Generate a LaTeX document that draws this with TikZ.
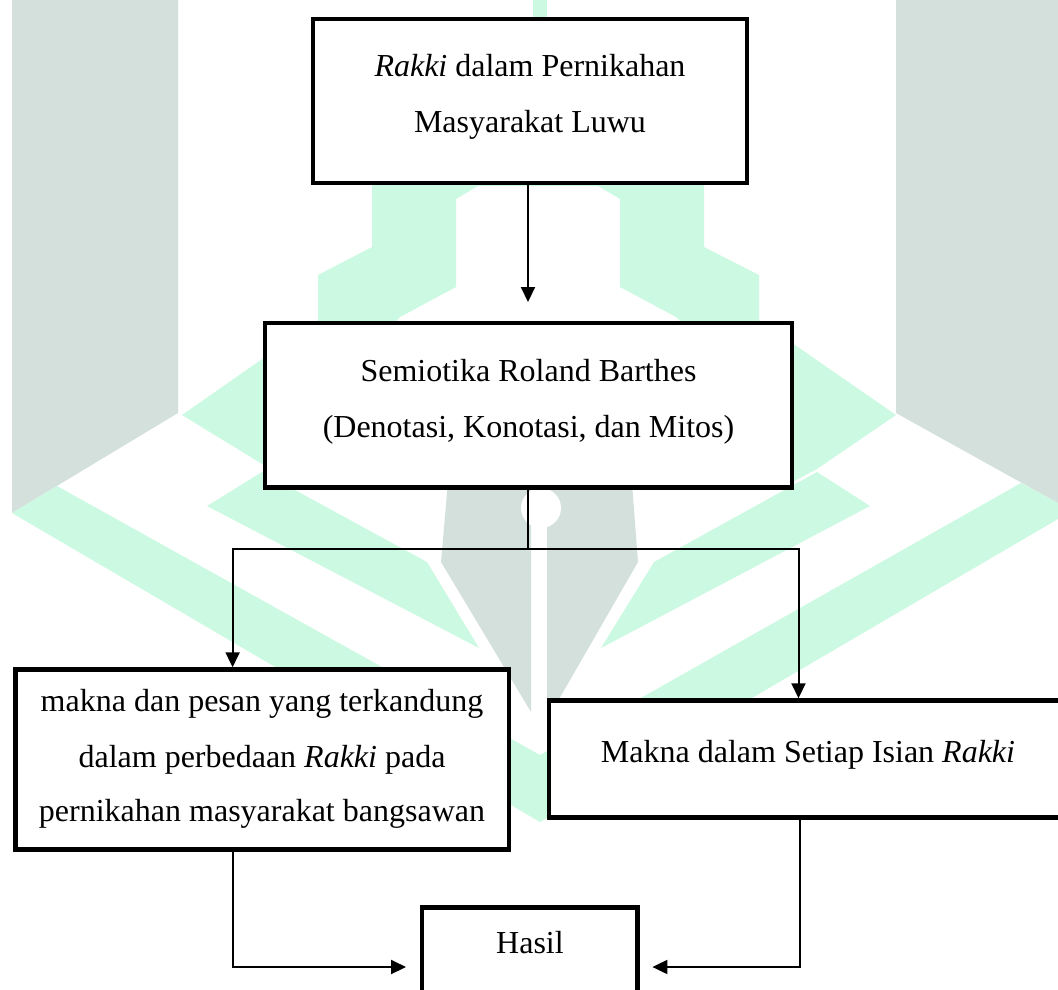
\documentclass[tikz,border=0pt]{standalone}
\usepackage{fontspec}
\setmainfont{Liberation Serif}
\usetikzlibrary{arrows.meta}
\definecolor{wmgreen}{RGB}{204,249,226}
\definecolor{wmgrey}{RGB}{211,224,220}
\begin{document}
\begin{tikzpicture}[x=1pt,y=-1pt,
  box/.style={draw=black, line width=4.5pt, fill=white, inner sep=0pt},
  txt/.style={anchor=base, inner sep=0pt, font=\fontsize{32pt}{57pt}\selectfont},
  conn/.style={line width=2pt, draw=black},
  arr/.style={conn, -{Triangle[length=15pt,width=14pt]}},
  wmg/.style={fill=wmgreen, draw=none},
  wmk/.style={fill=wmgrey, draw=none}]
\useasboundingbox (0,0) rectangle (1058,989);
\clip (0,0) rectangle (1058,989);
% ---- watermark ----
\fill[wmk] (12,0) -- (178,0) -- (178,413) -- (12,513) -- cycle;
\fill[wmk] (896,0) -- (1058,0) -- (1058,503) -- (896,413) -- cycle;
\fill[wmg] (12,513) -- (57,486) -- (540,755) -- (1021,483) -- (1058,503) -- (1058,519) -- (540,822) -- cycle;
\fill[wmg] (207,506) -- (262,472) -- (427,562) -- (479,648) -- cycle;
\fill[wmg] (870,506) -- (817,472) -- (654,562) -- (601,648) -- cycle;
\fill[wmg] (182,415) -- (318,320) -- (318,275) -- (372,247) -- (372,170) -- (456,170) -- (456,287) -- (400,317) -- (380,340) -- (280,400) -- (280,475) -- cycle;
\fill[wmg] (896,415) -- (759,320) -- (759,275) -- (704,247) -- (704,170) -- (620,170) -- (620,287) -- (676,317) -- (700,340) -- (780,400) -- (785,486) -- (817,469) -- cycle;
\fill[wmg] (456,170) -- (456,199) -- (478,186) -- (598,186) -- (620,199) -- (620,170) -- cycle;
\fill[wmg] (533,0) -- (547,0) -- (547,20) -- (533,20) -- cycle;
\fill[wmk] (449,470) -- (531,470) -- (531,712) -- (441,562) -- cycle;
\fill[wmk] (547,470) -- (631,470) -- (638,562) -- (547,720) -- cycle;
\fill[white] (541,508) circle[radius=20];
% ---- boxes ----
\node[box, minimum width=434pt, minimum height=164pt] (top) at (530,101) {};
\node[box, minimum width=527pt, minimum height=164.5pt] (mid) at (528.5,405.25) {};
\node[box, minimum width=493.5pt, minimum height=180pt] (lft) at (262.25,759.5) {};
\node[box, minimum width=518pt, minimum height=117pt] (rgt) at (808,759) {};
\node[box, minimum width=215.5pt, minimum height=102.5pt] (hasil) at (529.75,958.75) {};
% ---- texts ----
\node[txt] (t1) at (530,76) {\textit{Rakki} dalam Pernikahan};
\node[txt] (t2) at (530,132) {Masyarakat Luwu};
\node[txt] (m1) at (528.5,381) {Semiotika Roland Barthes};
\node[txt] (m2) at (528.5,437) {(Denotasi, Konotasi, dan Mitos)};
\node[txt] (l1) at (262,711) {makna dan pesan yang terkandung};
\node[txt] (l2) at (262,767) {dalam perbedaan \textit{Rakki} pada};
\node[txt] (l3) at (262,821) {pernikahan masyarakat bangsawan};
\node[txt] (r1) at (808,762) {Makna dalam Setiap Isian \textit{Rakki}};
\node[txt] (h1) at (530,953) {Hasil};
% ---- connectors ----
\coordinate (a1) at (528,302);
\coordinate (br) at (528,549);
\coordinate (bl) at (232.6,549);
\coordinate (brr) at (798.5,549);
\coordinate (cl) at (232.6,967);
\coordinate (hl) at (406,967);
\coordinate (cr) at (799.5,967);
\coordinate (hr) at (652.4,967);
\draw[arr] (top.south -| a1) -- (a1);
\draw[conn] (mid.south -| br) -- (br);
\draw[arr] (br) -- (bl) -- (bl |- lft.north);
\draw[arr] (br) -- (brr) -- (brr |- rgt.north);
\draw[arr] (lft.south -| cl) -- (cl) -- (hl);
\draw[arr] (rgt.south -| cr) -- (cr) -- (hr);
\end{tikzpicture}
\end{document}
